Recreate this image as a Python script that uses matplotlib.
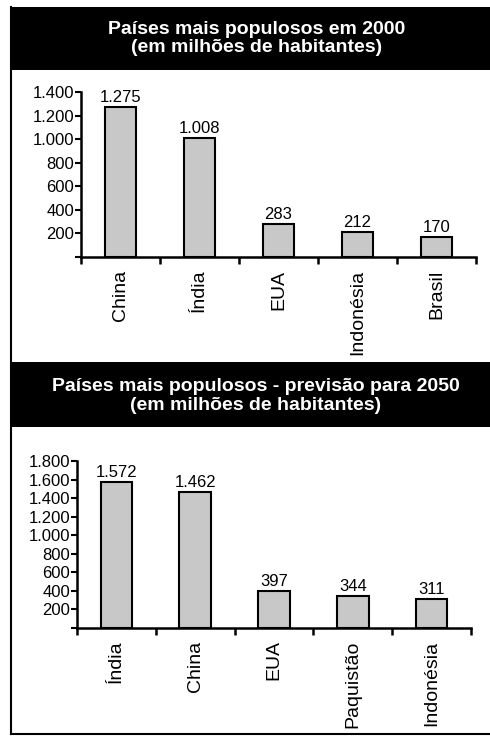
import matplotlib
matplotlib.use('Agg')
import matplotlib.pyplot as plt
from matplotlib.patches import Rectangle
from matplotlib.lines import Line2D
from matplotlib.ticker import FuncFormatter

plt.rcParams['font.family'] = ['Liberation Sans', 'DejaVu Sans']

# dados
paises2000 = ['China', 'Índia', 'EUA', 'Indonésia', 'Brasil']
pop2000 = [1275, 1008, 283, 212, 170]
titulo2000 = 'Países mais populosos em 2000\n(em milhões de habitantes)'

paises2050 = ['Índia', 'China', 'EUA', 'Paquistão', 'Indonésia']
pop2050 = [1572, 1462, 397, 344, 311]
titulo2050 = 'Países mais populosos - previsão para 2050\n(em milhões de habitantes)'

W, H = 490, 736
fig = plt.figure(figsize=(W/100, H/100), dpi=100)


def px(x0, y0, x1, y1):
    # pixel box -> figure fraction [left, bottom, width, height]
    return [x0/W, 1 - y1/H, (x1 - x0)/W, (y1 - y0)/H]


def milhar(v, pos=None):
    if v == 0:
        return ''
    return '{:,.0f}'.format(v).replace(',', '.')


def grafico(box, nomes, valores, ymax, passo):
    ax = fig.add_axes(box)
    x = range(len(nomes))
    ax.bar(x, valores, width=0.4, color='#c8c8c8', edgecolor='black', linewidth=1.5)
    for i, v in zip(x, valores):
        ax.text(i, v + ymax*0.012, milhar(v), ha='center', va='bottom', fontsize=12)
    ax.set_xlim(-0.5, len(nomes) - 0.5)
    ax.set_ylim(0, ymax)
    ax.set_yticks(range(0, ymax + 1, passo))
    ax.yaxis.set_major_formatter(FuncFormatter(milhar))
    ax.set_xticks(list(x))
    ax.set_xticklabels(nomes, rotation=90, fontsize=14)
    ax.set_xticks([i - 0.5 for i in range(len(nomes) + 1)], minor=True)
    ax.tick_params(axis='x', which='major', length=0, pad=9)
    ax.tick_params(axis='x', which='minor', direction='out', length=5, width=1.8)
    ax.tick_params(axis='y', direction='out', length=4, width=1.5, labelsize=12, pad=1)
    for s in ['top', 'right']:
        ax.spines[s].set_visible(False)
    for s in ['left', 'bottom']:
        ax.spines[s].set_linewidth(1.8)
    ax.patch.set_alpha(0)
    return ax


# cabecalhos
fig.patches.append(Rectangle((10/W, 1 - 70/H), 480/W, 63/H, transform=fig.transFigure,
                             facecolor='black', edgecolor='none'))
fig.patches.append(Rectangle((10/W, 1 - 427/H), 480/W, 65/H, transform=fig.transFigure,
                             facecolor='black', edgecolor='none'))
fig.text(257/W, 1 - 38.5/H, titulo2000, color='white', fontweight='bold', fontsize=14,
         ha='center', va='center', linespacing=1.12)
fig.text(256/W, 1 - 396/H, titulo2050, color='white', fontweight='bold', fontsize=14,
         ha='center', va='center', linespacing=1.2)

# moldura
fig.lines.append(Line2D([11/W, 11/W], [1 - 7/H, 1 - 734/H], transform=fig.transFigure,
                        color='black', linewidth=1.5))
fig.lines.append(Line2D([11/W, 1], [1 - 734/H, 1 - 734/H], transform=fig.transFigure,
                        color='black', linewidth=1.5))

grafico(px(81, 92, 476, 257), paises2000, pop2000, 1400, 200)
grafico(px(77, 461, 471, 628), paises2050, pop2050, 1800, 200)

fig.savefig('out.png', dpi=100)
